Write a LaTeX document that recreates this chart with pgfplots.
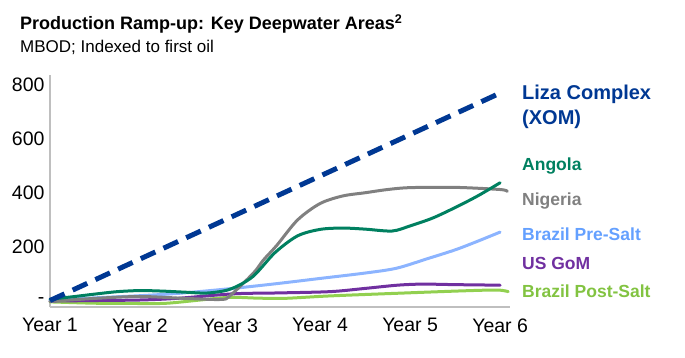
\documentclass[border=0pt]{standalone}
\usepackage{fontspec}
\setmainfont{Liberation Sans}
\usepackage{pgfplots}
\pgfplotsset{compat=1.18}
\definecolor{liza}{RGB}{0,56,147}
\definecolor{angola}{RGB}{0,128,96}
\definecolor{nigeria}{RGB}{128,128,128}
\definecolor{presalt}{RGB}{140,180,255}
\definecolor{presalttxt}{RGB}{100,160,255}
\definecolor{gom}{RGB}{112,48,160}
\definecolor{postsalt}{RGB}{146,208,80}
\definecolor{postsalttxt}{RGB}{130,195,65}
\definecolor{axgray}{RGB}{191,191,191}
\begin{document}
\begin{tikzpicture}[x=1pt,y=1pt]
\path[use as bounding box] (0pt,0pt) rectangle (685pt,357pt);
\begin{axis}[
  at={(50pt,50pt)}, anchor=south west,
  scale only axis, width=460pt, height=232pt,
  xmin=1, xmax=6.11, ymin=-24, ymax=837,
  axis x line*=bottom, axis y line*=left,
  axis line style={draw=axgray, line width=1.5pt, -},
  xtick={1,2,3,4,5,6},
  xticklabels={Year 1,Year 2,Year 3,Year 4,Year 5,Year 6},
  ytick={0,200,400,600,800},
  yticklabels={-,200,400,600,800},
  major tick length=0pt,
  tick label style={font=\fontsize{19.5}{19.5}\selectfont},
  xticklabel style={yshift=-8pt},
  yticklabel style={xshift=-2pt},
  /pgf/number format/assume math mode=true,
  clip=false,
  every axis plot/.append style={smooth, tension=0.5, line width=3pt, line cap=round},
]
\addplot[postsalt] coordinates {(1,-5) (1.5,-10) (2,-11) (2.3,-10) (2.7,3) (3,12) (3.3,9) (3.6,8) (4.1,17) (4.86,27) (5.59,36) (5.97,39) (6.09,33)};
\addplot[gom] coordinates {(1,-2) (1.5,0) (2,2) (2.41,8) (3.04,25) (3.5,28) (4.11,33) (4.5,45) (4.86,57) (5.14,61) (5.5,59) (6,57)};
\addplot[presalt] coordinates {(1,0) (1.5,10) (2,18) (2.44,27) (3,44) (3.5,62) (4,82) (4.5,102) (4.85,120) (5.19,155) (5.5,188) (5.75,220) (6,254)};
\addplot[nigeria] coordinates {(1,-3) (1.5,8) (2,15) (2.5,8) (2.9,4) (3.0,18) (3.26,102) (3.37,150) (3.52,205) (3.75,299) (4,360) (4.25,388) (4.5,400) (4.75,412) (5,419) (5.5,420) (6,412) (6.08,405)};
\addplot[angola] coordinates {(1,5) (1.25,14) (1.5,24) (1.75,33) (2,37) (2.25,35) (2.5,31) (2.75,28) (3,42) (3.25,88) (3.5,178) (3.75,240) (4,264) (4.25,269) (4.5,265) (4.8,258) (5,277) (5.25,306) (5.5,345) (5.75,388) (6,437)};
\addplot[liza, sharp plot, line width=5pt, line cap=butt, dash pattern=on 16pt off 9pt] coordinates {(1,0) (6,770)};
\end{axis}
\node[anchor=base west, inner sep=0pt, font=\fontsize{18}{18}\selectfont\bfseries] at (20pt,327pt) {Production Ramp-up: Key Deepwater Areas\textsuperscript{2}};
\node[anchor=base west, font=\fontsize{17}{17}\selectfont, inner sep=0pt] at (20pt,305pt) {MBOD; Indexed to first oil};
\begin{scope}[every node/.style={anchor=base west, inner sep=0pt, font=\fontsize{17.5}{17.5}\selectfont\bfseries}]
\node[text=liza, font=\fontsize{20}{20}\selectfont\bfseries] at (522pt,258pt) {Liza Complex};
\node[text=liza, font=\fontsize{20}{20}\selectfont\bfseries] at (522pt,233pt) {(XOM)};
\node[text=angola] at (522pt,187pt) {Angola};
\node[text=nigeria] at (522pt,152pt) {Nigeria};
\node[text=presalttxt] at (522pt,117pt) {Brazil Pre-Salt};
\node[text=gom] at (522pt,88pt) {US GoM};
\node[text=postsalttxt] at (522pt,60pt) {Brazil Post-Salt};
\end{scope}
\end{tikzpicture}
\end{document}
